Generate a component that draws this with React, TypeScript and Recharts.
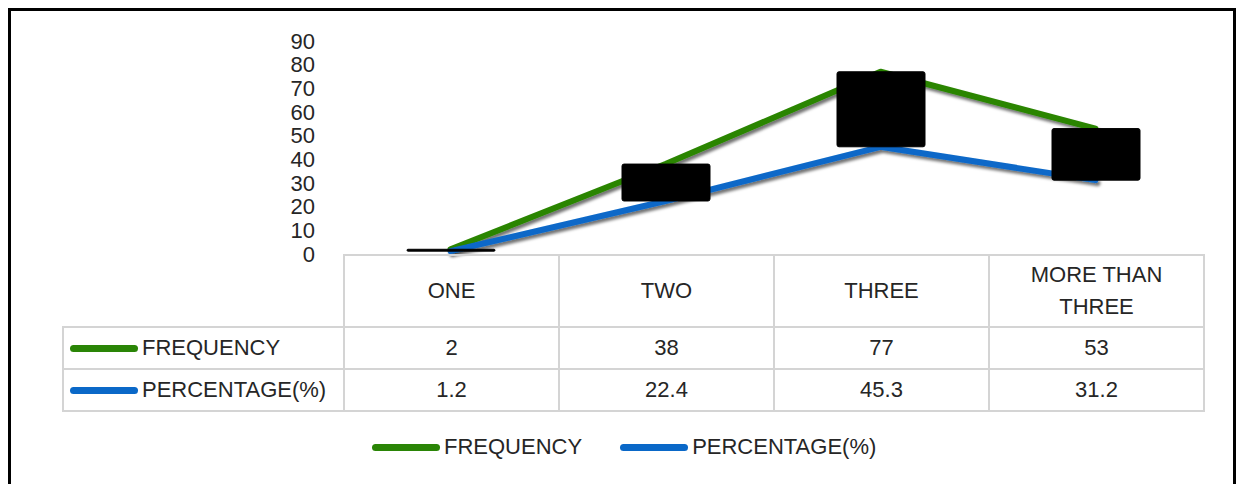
import React from 'react';
import { ComposedChart, Line, Bar, XAxis, YAxis } from 'recharts';

const categories = ['ONE', 'TWO', 'THREE', 'MORE THAN THREE'];
const frequency = [2, 38, 77, 53];
const percentage = [1.2, 22.4, 45.3, 31.2];
const yTicks = [0, 10, 20, 30, 40, 50, 60, 70, 80, 90];

const series = [
  { key: 'frequency', name: 'FREQUENCY', color: '#2a8506', values: frequency },
  { key: 'percentage', name: 'PERCENTAGE(%)', color: '#0a68c8', values: percentage },
];

const data = categories.map((cat, i) => ({
  cat,
  frequency: frequency[i],
  percentage: percentage[i],
}));

const FONT = '"Liberation Sans", Arial, sans-serif';
const TEXT = '#262626';
const GRID = '#d4d4d4';

const Key: React.FC<{ color: string }> = ({ color }) => (
  <span
    style={{
      display: 'inline-block',
      width: 68,
      height: 7,
      borderRadius: 4,
      background: color,
      verticalAlign: 'middle',
      marginRight: 4,
    }}
  />
);

export default function App() {
  const cell: React.CSSProperties = {
    border: `2px solid ${GRID}`,
    textAlign: 'center',
    padding: 0,
    color: TEXT,
  };

  return (
    <div style={{ position: 'absolute', left: 0, top: 0, width: 1238, height: 484, overflow: 'hidden', background: '#fff', fontFamily: FONT }}>
      <svg width={0} height={0} style={{ position: 'absolute' }}>
        <defs>
          <filter id="lineShadow" x="-10%" y="-10%" width="130%" height="140%">
            <feDropShadow dx={2} dy={3} stdDeviation={1.8} floodColor="#000" floodOpacity={0.55} />
          </filter>
        </defs>
      </svg>

      {/* outer frame */}
      <div style={{ position: 'absolute', left: 8, top: 8, width: 1228, height: 520, border: '3px solid #000', boxSizing: 'border-box' }} />

      <div style={{ position: 'absolute', left: 0, top: 0 }}>
        <ComposedChart width={1238} height={484} data={data} margin={{ top: 41, right: 35, bottom: 230, left: 283 }}>
          <XAxis dataKey="cat" hide />
          <YAxis
            width={60}
            domain={[0, 90]}
            ticks={yTicks}
            interval={0}
            axisLine={false}
            tickLine={false}
            tickSize={0}
            tickMargin={28}
            tick={{ fontSize: 22, fill: TEXT, fontFamily: FONT }}
          />
          {series.map((s) => (
            <Line
              key={s.key}
              type="linear"
              dataKey={s.key}
              stroke={s.color}
              strokeWidth={6}
              strokeLinecap="round"
              strokeLinejoin="round"
              dot={false}
              activeDot={false}
              filter="url(#lineShadow)"
              isAnimationActive={false}
            />
          ))}
          <Bar
            dataKey={(d: { frequency: number; percentage: number }) => [d.percentage, d.frequency]}
            fill="#000"
            stroke="#000"
            strokeWidth={1}
            barSize={88}
            radius={2}
            zIndex={450}
            isAnimationActive={false}
          />
        </ComposedChart>
      </div>

      {/* data table */}
      <table
        style={{
          position: 'absolute',
          left: 62,
          top: 254,
          width: 1142,
          tableLayout: 'fixed',
          borderCollapse: 'collapse',
          fontSize: 22,
          fontFamily: FONT,
        }}
      >
        <colgroup>
          <col style={{ width: 281 }} />
          {categories.map((c) => (
            <col key={c} style={{ width: 215 }} />
          ))}
        </colgroup>
        <tbody>
          <tr style={{ height: 72 }}>
            <td style={{ border: 'none', padding: 0 }} />
            {categories.map((c) => (
              <td key={c} style={{ ...cell, padding: '0 34px', lineHeight: '32px' }}>
                {c}
              </td>
            ))}
          </tr>
          {series.map((s) => (
            <tr key={s.key} style={{ height: 42 }}>
              <td style={{ ...cell, textAlign: 'left', paddingLeft: 6, whiteSpace: 'nowrap' }}>
                <Key color={s.color} />
                <span style={{ verticalAlign: 'middle' }}>{s.name}</span>
              </td>
              {s.values.map((v, i) => (
                <td key={i} style={cell}>
                  {v}
                </td>
              ))}
            </tr>
          ))}
        </tbody>
      </table>

      {/* legend */}
      <div style={{ position: 'absolute', left: 372, top: 433, display: 'flex', fontSize: 22, color: TEXT, lineHeight: '28px' }}>
        {series.map((s, i) => (
          <div key={s.key} style={{ display: 'flex', alignItems: 'center', marginLeft: i === 0 ? 0 : 38 }}>
            <Key color={s.color} />
            <span>{s.name}</span>
          </div>
        ))}
      </div>
    </div>
  );
}
